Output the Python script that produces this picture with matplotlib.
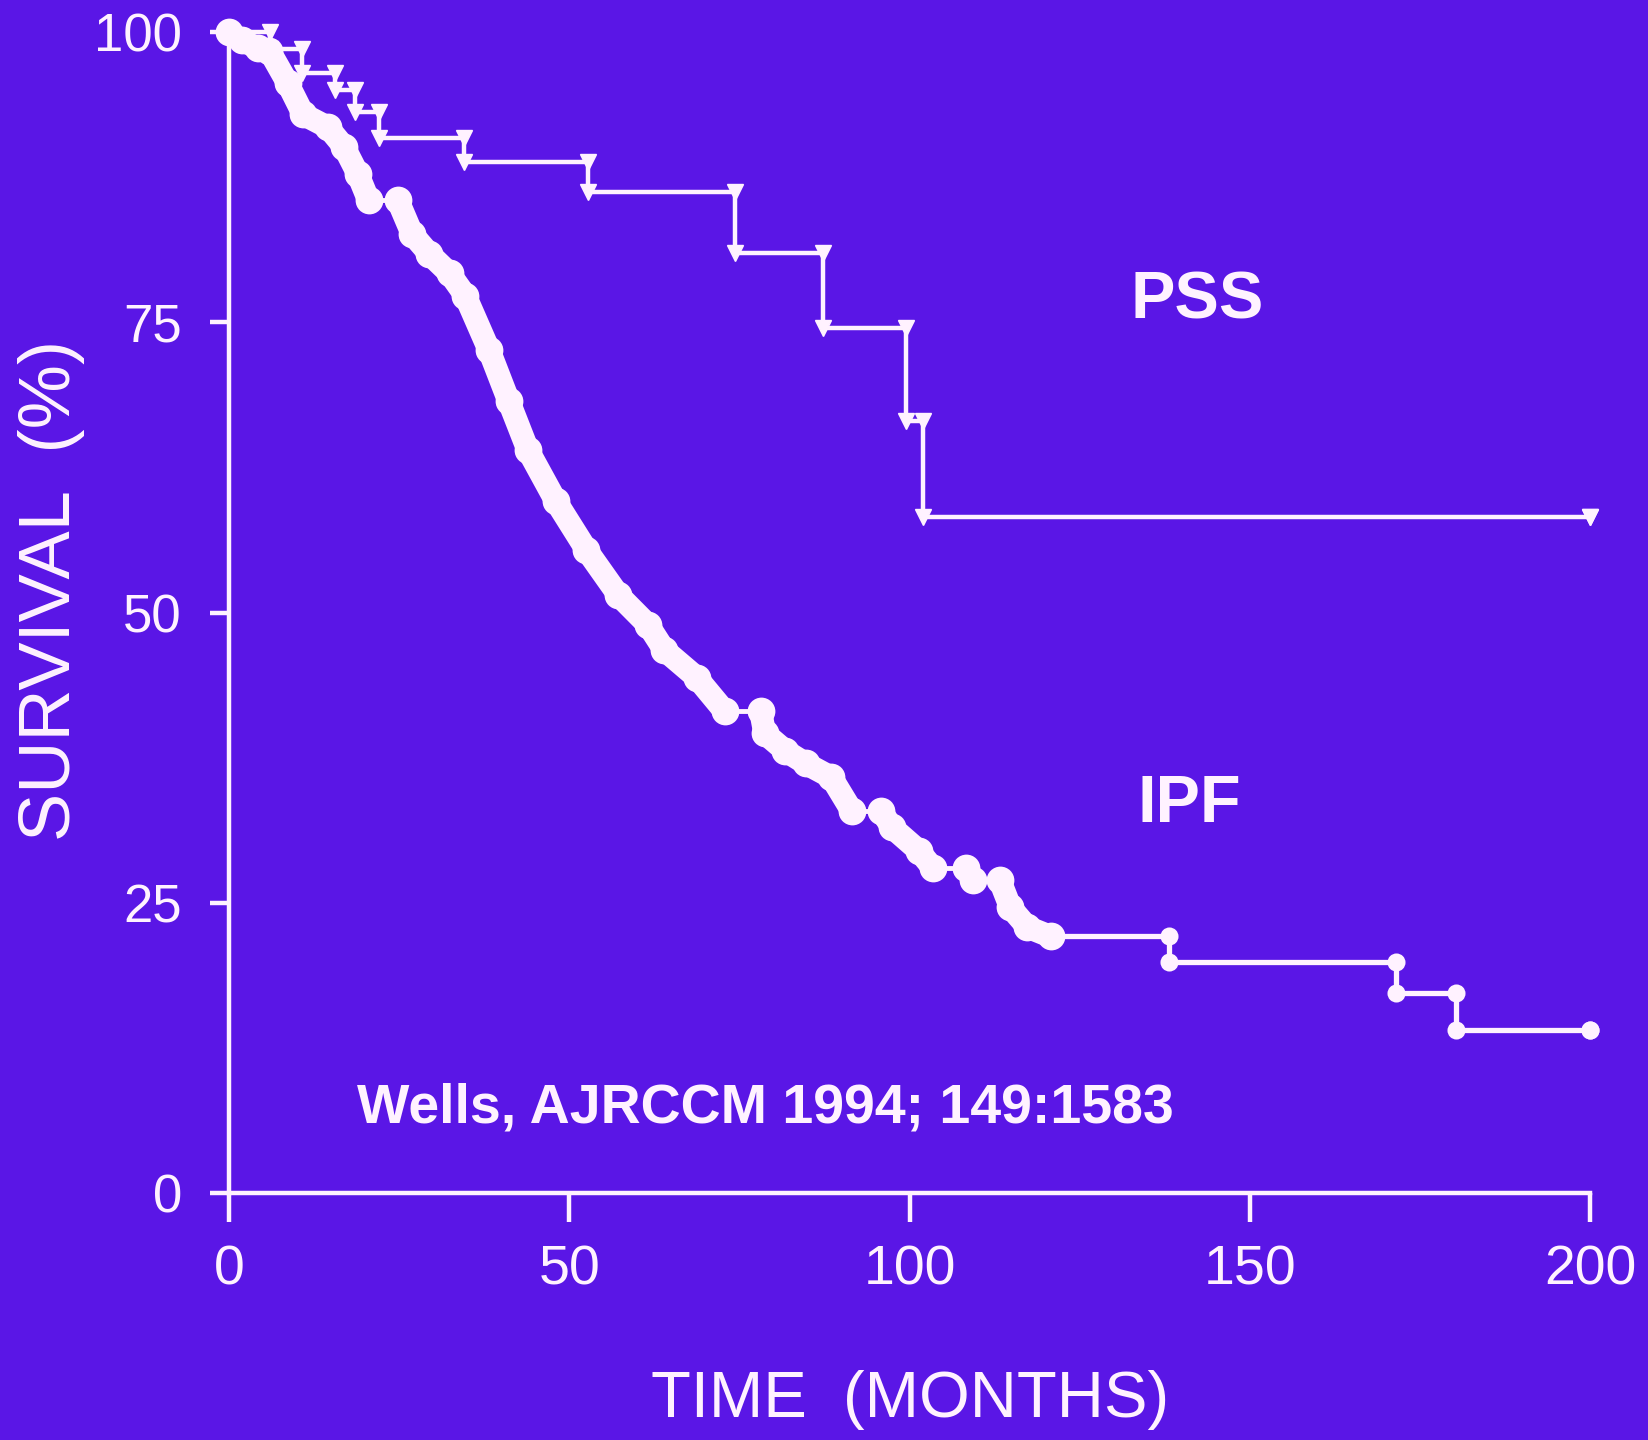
import numpy as np
import matplotlib.pyplot as plt

# Kaplan-Meier steps: time (months) at which survival (%) drops to the given value
pss_months = [0, 6.0, 10.7, 15.6, 18.5, 22.0, 34.5, 52.7, 74.4, 87.2, 99.4, 102.0, 200]
pss_surv = [100, 98.5, 96.5, 95.0, 93.1, 90.9, 88.8, 86.2, 81.0, 74.5, 66.5, 58.2, 58.2]

ipf_months = [0, 1.9, 4.2, 5.9, 8.6, 10.9, 14.5, 16.9, 18.9, 20.5, 24.8, 26.9, 29.4,
              32.4, 34.7, 38.2, 41.1, 43.9, 48.0, 52.5, 57.2, 61.6, 63.9, 68.7, 72.8,
              78.1, 78.7, 81.7, 84.7, 88.5, 91.5, 95.8, 97.4, 101.3, 103.4, 108.3,
              109.3, 113.2, 114.8, 117.3, 120.7, 138.1, 171.5, 180.3, 200]
ipf_surv = [100, 99.3, 98.6, 98.4, 95.6, 92.9, 91.8, 90.1, 87.8, 85.5, 85.5, 82.6, 80.9,
            79.2, 77.3, 72.6, 68.2, 64.0, 59.6, 55.4, 51.5, 48.9, 46.8, 44.4, 41.5,
            41.5, 39.6, 38.1, 37.0, 35.8, 32.9, 32.9, 31.5, 29.5, 28.0, 28.0,
            27.0, 27.0, 24.6, 22.9, 22.1, 19.9, 17.2, 14.0, 14.0]

x_ticks = [0, 50, 100, 150, 200]
y_ticks = [0, 25, 50, 75, 100]

bg = '#5a16e6'
fg = '#fff2ff'
sans = ['Liberation Sans', 'DejaVu Sans']

fig = plt.figure(figsize=(16.48, 14.4), dpi=100, facecolor=bg)
ax = fig.add_axes([0.139, 0.1715, 0.826, 0.8063], facecolor=bg)


def corners(t, s):
    # both corners of every drop, so each event gets a mark top and bottom
    t = np.asarray(t, float)
    s = np.asarray(s, float)
    xs = np.concatenate([t, t[1:]])
    ys = np.concatenate([s, s[:-1]])
    return xs, ys


# PSS: thin staircase with triangle ticks
ax.step(pss_months, pss_surv, where='post', color=fg, lw=3.2, clip_on=False, zorder=3)
px, py = corners(pss_months, pss_surv)
ax.plot(px[1:], py[1:], 'v', color=fg, ms=11, clip_on=False, zorder=4)

# IPF: events crowd into a heavy beaded band up to ~10 years, then a sparse staircase
it = np.asarray(ipf_months, float)
isv = np.asarray(ipf_surv, float)
dense = it <= 121
n = int(dense.sum())
for i in range(1, n):
    seg_t = it[i - 1:i + 1]
    seg_s = isv[i - 1:i + 1]
    if isv[i] == isv[i - 1]:
        ax.plot(seg_t, seg_s, color=fg, lw=3.5, zorder=3)
    else:
        ax.plot(seg_t, seg_s, color=fg, lw=16.5, solid_capstyle='round',
                solid_joinstyle='round', clip_on=False, zorder=3)
ax.plot(it[:n], isv[:n], 'o', color=fg, ms=20, mew=0, clip_on=False, zorder=4)

ax.step(it[n - 1:], isv[n - 1:], where='post', color=fg, lw=3.8, clip_on=False, zorder=3)
ix, iy = corners(it[n - 1:], isv[n - 1:])
ax.plot(ix, iy, 'o', color=fg, ms=13, mew=0, clip_on=False, zorder=4)

ax.set_xlim(0, 200)
ax.set_ylim(0, 100)
ax.set_xticks(x_ticks)
ax.set_yticks(y_ticks)
for side in ['top', 'right']:
    ax.spines[side].set_visible(False)
for side in ['left', 'bottom']:
    ax.spines[side].set_color(fg)
    ax.spines[side].set_linewidth(3.2)
ax.tick_params(axis='x', direction='out', length=21, width=3.2, colors=fg,
               labelsize=40, pad=16)
ax.tick_params(axis='y', direction='out', length=14, width=3.2, colors=fg,
               labelsize=38, pad=20)
for lab in ax.get_xticklabels() + ax.get_yticklabels():
    lab.set_family(sans)

ax.text(132.5, 76.8, 'PSS', color=fg, fontsize=48, fontweight='bold', family=sans,
        ha='left', va='center')
ax.text(133.5, 33.4, 'IPF', color=fg, fontsize=48, fontweight='bold', family=sans,
        ha='left', va='center')
ax.text(18.8, 7.3, 'Wells, AJRCCM 1994; 149:1583', color=fg, fontsize=40,
        fontweight='bold', family=sans, ha='left', va='center')

fig.text(0.552, 0.028, 'TIME  (MONTHS)', color=fg, fontsize=47, family=sans,
         ha='center', va='center')
fig.text(0.031, 0.59, 'SURVIVAL  (%)', color=fg, fontsize=52, family=sans,
         rotation=90, ha='center', va='center')

fig.savefig('out.png', dpi=100, facecolor=bg)
